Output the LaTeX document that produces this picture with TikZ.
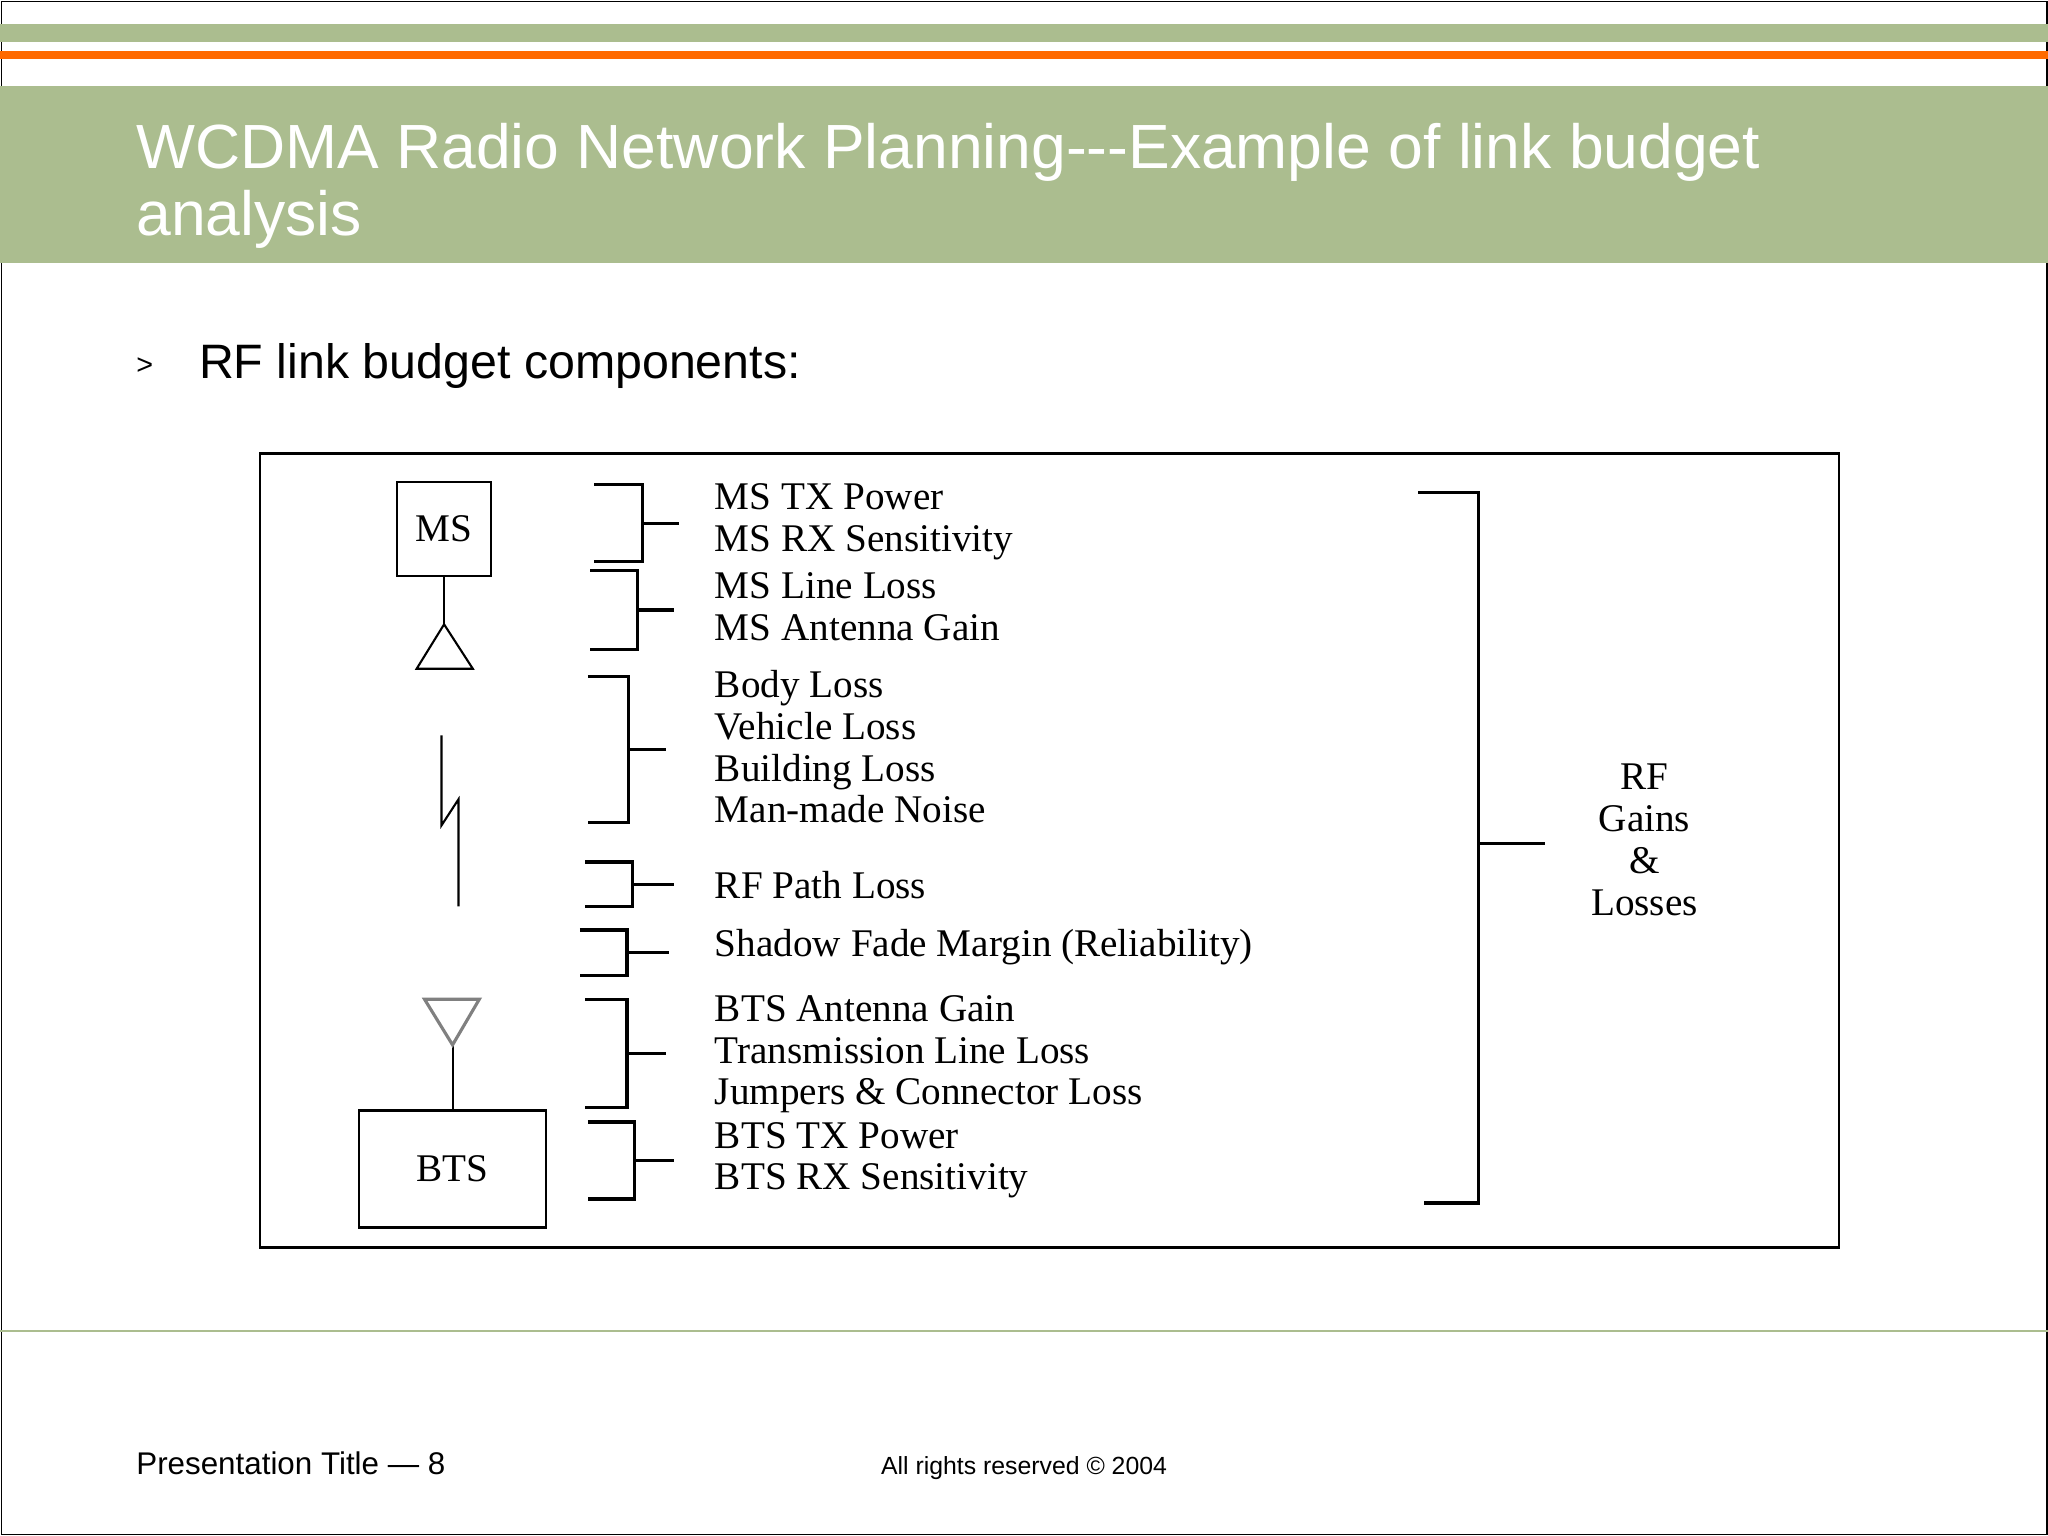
\documentclass[tikz,border=0pt]{standalone}
\usepackage{fontspec}
\setmainfont{Liberation Serif}
\newfontfamily\sans{Liberation Sans}
\definecolor{sage}{HTML}{ABBD8F}
\definecolor{orng}{HTML}{FF6A00}
\begin{document}
\begin{tikzpicture}[x=0.5pt,y=-0.5pt,
  lbl/.style={anchor=west,inner sep=0pt,text height=10pt,text depth=3pt,font=\fontsize{15}{15}\selectfont},
  brk/.style={draw=black,line width=1.2pt},
  ln/.style={draw=black,line width=0.8pt}]
\useasboundingbox (0,0) rectangle (1568,1176);
\draw[line width=0.6pt] (1,1) rectangle (1567,1175);
\fill[sage] (0,18) rectangle (1568,32);
\fill[orng] (0,39) rectangle (1568,45);
\fill[sage] (0,66) rectangle (1568,201);
\node[anchor=west,inner sep=0pt,text=white,font=\sans\fontsize{23.9}{25}\selectfont] (t1) at (104,117) {WCDMA Radio Network Planning---Example of link budget};
\node[anchor=west,inner sep=0pt,text=white,font=\sans\fontsize{23.9}{25}\selectfont] (t2) at (104,168) {analysis};
\node[anchor=west,inner sep=0pt,font=\sans\fontsize{11}{11}\selectfont] (bul) at (104,280) {>};
\node[anchor=west,inner sep=0pt,font=\sans\fontsize{18.5}{18}\selectfont] (sub) at (152,280) {RF link budget components:};
\draw[line width=1pt] (199,347) rectangle (1408,955);
% MS
\node[draw,line width=1pt,minimum width=36pt,minimum height=36pt,inner sep=0pt,font=\fontsize{15}{15}\selectfont] (ms) at (340,405) {MS};
\coordinate (msa) at (340,478);
\draw[ln] (ms.south) -- (msa);
\draw[ln] (msa) -- (362,512) -- (319,512) -- cycle;
\draw[ln] (338,563) -- (338,632) -- (351,612) -- (351,694);
% BTS
\node[draw,line width=1pt,minimum width=71.5pt,minimum height=45pt,inner sep=0pt,font=\fontsize{15}{15}\selectfont] (bts) at (346.5,895) {BTS};
\coordinate (bta) at (346.5,800);
\draw[ln] (bts.north) -- (bta);
\draw[draw=gray,line width=1.2pt] (bta) -- (325,765) -- (367,765) -- cycle;
% brackets
\foreach \t/\b/\l/\v/\e in {371/430/455/492/520, 437/497/452/488/516, 518/630/450/481/510, 660/694/448/484/516, 712/747/444/480/512, 765/848/448/480/510, 859/918/450/486/516}{
  \draw[brk] (\l,\t) -- (\v,\t) -- (\v,\b) -- (\l,\b);
  \draw[brk] (\v,{(\t+\b)/2}) -- (\e,{(\t+\b)/2});
}
\draw[brk] (1086,377) -- (1132,377) -- (1132,921) -- (1090,921);
\draw[brk] (1132,646) -- (1183,646);
\node[lbl] (a1) at (547,383) {MS TX Power};
\node[lbl] (a2) at (547,415) {MS RX Sensitivity};
\node[lbl] (a3) at (547,451) {MS Line Loss};
\node[lbl] (a4) at (547,483) {MS Antenna Gain};
\node[lbl] (a5) at (547,527) {Body Loss};
\node[lbl] (a6) at (547,559) {Vehicle Loss};
\node[lbl] (a7) at (547,591) {Building Loss};
\node[lbl] (a8) at (547,623) {Man-made Noise};
\node[lbl] (a9) at (547,681) {RF Path Loss};
\node[lbl] (a10) at (547,725) {Shadow Fade Margin (Reliability)};
\node[lbl] (a11) at (547,775) {BTS Antenna Gain};
\node[lbl] (a12) at (547,807) {Transmission Line Loss};
\node[lbl] (a13) at (547,839) {Jumpers \& Connector Loss};
\node[lbl] (a14) at (547,872) {BTS TX Power};
\node[lbl] (a15) at (547,904) {BTS RX Sensitivity};
\node[align=center,inner sep=0pt,font=\fontsize{15}{16}\selectfont] (rf) at (1259,643) {RF\\Gains\\\&\\Losses};
\draw[sage,line width=0.8pt] (0,1019) -- (1568,1019);
\node[anchor=west,inner sep=0pt,font=\sans\fontsize{12}{12}\selectfont] (f1) at (104,1120) {Presentation Title — 8};
\node[inner sep=0pt,font=\sans\fontsize{9.5}{10}\selectfont] (f2) at (784,1124) {All rights reserved © 2004};
\end{tikzpicture}
\end{document}
